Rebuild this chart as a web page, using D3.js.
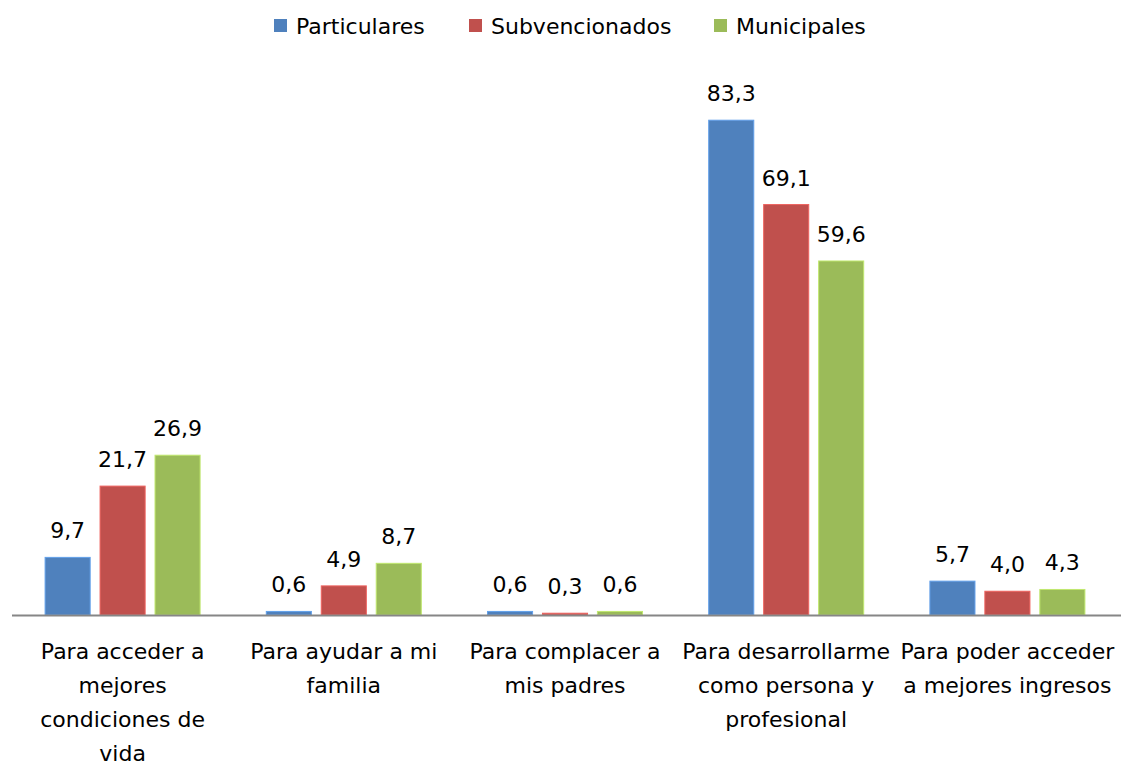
<!DOCTYPE html>
<html><head><meta charset="utf-8">
<script src="https://cdn.jsdelivr.net/npm/d3@7"></script>
<style>body{margin:0;background:#fff}svg{display:block}text{font-family:"DejaVu Sans","Open Sans",sans-serif;fill:#000}</style>
</head><body><svg id="c" width="1121" height="765"></svg>
<script>
const categories = [
  "Para acceder a\nmejores\ncondiciones de\nvida",
  "Para ayudar a mi\nfamilia",
  "Para complacer a\nmis padres",
  "Para desarrollarme\ncomo persona y\nprofesional",
  "Para poder acceder\na mejores ingresos"
];
const seriesNames = ["Particulares", "Subvencionados", "Municipales"];
const particulares = [9.7, 0.6, 0.6, 83.3, 5.7];
const subvencionados = [21.7, 4.9, 0.3, 69.1, 4.0];
const municipales = [26.9, 8.7, 0.6, 59.6, 4.3];
const colors = ["#4F81BD", "#C0504D", "#9BBB59"];
const series = [particulares, subvencionados, municipales];

const svg = d3.select("#c");
const fs = 22;
const GW = 155;
const x0 = d3.scaleBand().domain(d3.range(categories.length)).range([12, 1118]);
const x1 = d3.scaleBand().domain(d3.range(3)).range([0, GW]).paddingInner(0.18);
const y = d3.scaleLinear().domain([0, 100]).range([615, 21]);
const fmt = v => v.toFixed(1).replace(".", ",");

const groups = svg.selectAll("g.grp").data(categories).join("g")
  .attr("transform", (d, i) => `translate(${x0(i) + (x0.bandwidth() - GW) / 2},0)`);

series.forEach((s, si) => {
  groups.append("rect")
    .attr("x", x1(si)).attr("width", x1.bandwidth())
    .attr("y", (d, i) => y(s[i])).attr("height", (d, i) => y(0) - y(s[i]))
    .attr("fill", colors[si]).attr("stroke", d3.color(colors[si]).brighter(0.6)).attr("stroke-width", 1);
  groups.append("text")
    .attr("x", x1(si) + x1.bandwidth() / 2).attr("y", (d, i) => y(s[i]) - 19)
    .attr("text-anchor", "middle").attr("font-size", fs)
    .text((d, i) => fmt(s[i]));
});

svg.append("line").attr("x1", 12).attr("x2", 1121).attr("y1", 615.5).attr("y2", 615.5)
  .attr("stroke", "#868686").attr("stroke-width", 2);

groups.each(function(d, i) {
  const t = d3.select(this).append("text").attr("text-anchor", "middle").attr("font-size", fs);
  d.split("\n").forEach((ln, li) => {
    t.append("tspan").attr("x", GW / 2).attr("y", 659 + li * 34).text(ln);
  });
});

const legX = [274, 469, 714];
const leg = svg.append("g");
seriesNames.forEach((n, i) => {
  leg.append("rect").attr("x", legX[i]).attr("y", 19).attr("width", 13).attr("height", 13).attr("fill", colors[i]);
  leg.append("text").attr("x", legX[i] + 22).attr("y", 34).attr("font-size", fs).text(n);
});
</script></body></html>
